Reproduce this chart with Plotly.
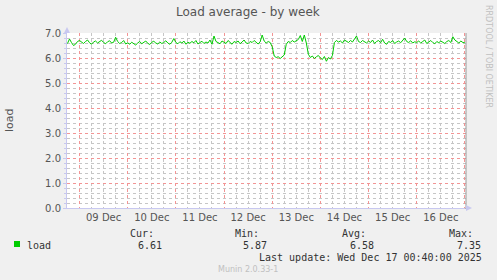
import plotly.graph_objects as go
import pandas as pd

# ---- data (hourly load average) ----
start_time = "2025-12-08 18:00"
load_values = [
    # Dec 8 18:00-23:00
    6.58, 6.76, 6.62, 6.50, 6.55, 6.66,
    # Dec 9
    6.70, 6.63, 6.58, 6.66, 6.72, 6.61, 6.55, 6.64, 6.68, 6.60, 6.66, 6.71,
    6.62, 6.57, 6.65, 6.69, 6.60, 6.63, 6.83, 6.66, 6.58, 6.62, 6.70, 6.56,
    # Dec 10
    6.61, 6.55, 6.63, 6.58, 6.52, 6.60, 6.66, 6.57, 6.62, 6.68, 6.59, 6.54,
    6.63, 6.67, 6.60, 6.56, 6.64, 6.58, 6.62, 6.69, 6.60, 6.55, 6.63, 6.78,
    # Dec 11
    6.62, 6.57, 6.65, 6.60, 6.68, 6.55, 6.63, 6.59, 6.66, 6.61, 6.70, 6.56,
    6.62, 6.67, 6.58, 6.64, 6.60, 6.72, 6.55, 6.88, 6.66, 6.61, 6.57, 6.68,
    # Dec 12
    6.63, 6.58, 6.70, 6.61, 6.55, 6.66, 6.62, 6.68, 6.57, 6.64, 6.72, 6.60,
    6.58, 6.66, 6.62, 6.70, 6.63, 6.56, 6.65, 6.92, 6.68, 6.60, 6.66, 6.62,
    # Dec 13
    6.45, 6.08, 6.02, 6.05, 5.98, 6.06, 6.12, 6.55, 6.66, 6.62, 6.70, 6.64,
    6.68, 6.74, 6.90, 6.66, 6.92, 6.60, 6.15, 6.02, 6.08, 5.98, 6.05, 6.10,
    # Dec 14
    6.00, 5.94, 6.06, 5.87, 6.02, 5.96, 6.10, 6.62, 6.70, 6.64, 6.68, 6.60,
    6.72, 6.66, 6.62, 6.70, 6.64, 6.76, 6.88, 6.66, 6.62, 6.70, 6.65, 6.60,
    # Dec 15
    6.68, 6.62, 6.72, 6.58, 6.66, 6.70, 6.61, 6.75, 6.60, 6.55, 6.66, 6.62,
    6.70, 6.58, 6.64, 6.68, 6.61, 6.72, 6.80, 6.66, 6.62, 6.69, 6.60, 6.65,
    # Dec 16
    6.62, 6.68, 6.60, 6.66, 6.72, 6.58, 6.64, 6.70, 6.62, 6.57, 6.66, 6.61,
    6.68, 6.63, 6.58, 6.66, 6.70, 6.62, 6.85, 6.72, 6.64, 6.60, 6.68, 6.62,
    # Dec 17 00:00
    6.61,
]
x_range = ["2025-12-08 17:46", "2025-12-17 00:33"]
y_range = [0, 7]

series_name = "load"
stat_labels = ["Cur:", "Min:", "Avg:", "Max:"]
stat_values = ["6.61", "5.87", "6.58", "7.35"]
title_text = "Load average - by week"
y_title = "load"
last_update = "Last update: Wed Dec 17 00:40:00 2025"
side_text = "RRDTOOL / TOBI OETIKER"
footer_text = "Munin 2.0.33-1"

times = pd.date_range(start_time, periods=len(load_values), freq="h")

# grid positions (minor grid skips the major positions)
minor_x = [t for t in pd.date_range("2025-12-08 18:00", "2025-12-17 00:00", freq="6h")
           if t.hour != 0]
minor_y = [round(i * 0.2, 1) for i in range(1, 36) if i % 5 != 0]

# ---- layout geometry (pixels) ----
W, H = 497, 280
L, R, T, B = 67, 31, 33, 72
PW, PH = W - L - R, H - T - B


def px(x):
    return (x - L) / PW


def py(y):
    return (H - B - y) / PH


GREEN = "#00CC00"
MAJOR = "#F39494"
MINOR = "#C6C6C6"
AXIS = "#C8C8F0"
TXT = "#555555"

fig = go.Figure()
fig.add_trace(go.Scatter(x=times, y=load_values, mode="lines",
                         line=dict(color=GREEN, width=1), hoverinfo="skip",
                         showlegend=False))

fig.update_layout(
    width=W, height=H,
    margin=dict(l=L, r=R, t=T, b=B, autoexpand=False),
    paper_bgcolor="#F0F0F0", plot_bgcolor="#FFFFFF",
    showlegend=False,
    font=dict(family="DejaVu Sans", size=10, color=TXT),
)

fig.update_xaxes(
    type="date", range=x_range,
    tickmode="linear", tick0="2025-12-09", dtick=86400000,
    ticklabelmode="period", tickformat="%d %b",
    ticks="", showgrid=True, gridcolor=MAJOR, griddash="dot", gridwidth=1,
    minor=dict(tickmode="array", tickvals=minor_x,
               showgrid=True, gridcolor=MINOR, griddash="dot", ticks=""),
    showline=True, linecolor=AXIS, linewidth=1, zeroline=False,
    tickfont=dict(family="DejaVu Sans", size=10, color=TXT),
)
fig.update_yaxes(
    range=y_range, tickmode="linear", tick0=0, dtick=1, tickformat=".1f",
    ticks="outside", ticklen=3, tickcolor=AXIS,
    showgrid=True, gridcolor=MAJOR, griddash="dot", gridwidth=1,
    minor=dict(tickmode="array", tickvals=minor_y, showgrid=True,
               gridcolor=MINOR, griddash="dot", ticks="outside",
               ticklen=2, tickcolor=AXIS),
    showline=True, linecolor=AXIS, linewidth=1, zeroline=False,
    tickfont=dict(family="DejaVu Sans", size=10, color=TXT),
)

shapes = [
    # right edge marker
    dict(type="line", xref="paper", yref="paper", x0=1, x1=1,
         y0=py(209), y1=1, line=dict(color="#999999", width=1)),
    # axis arrows
    dict(type="path", xref="paper", yref="paper",
         path=f"M {px(64)} {py(33)} L {px(70)} {py(33)} L {px(67)} {py(27)} Z",
         fillcolor=AXIS, line=dict(width=0)),
    dict(type="path", xref="paper", yref="paper",
         path=f"M {px(466)} {py(205)} L {px(466)} {py(211)} L {px(472)} {py(208)} Z",
         fillcolor=AXIS, line=dict(width=0)),
    # legend swatch
    dict(type="rect", xref="paper", yref="paper",
         x0=px(14), x1=px(20), y0=py(247), y1=py(241),
         fillcolor=GREEN, line=dict(width=0)),
]
fig.update_layout(shapes=shapes)

MONO = dict(family="DejaVu Sans Mono", size=10, color="#333333")
ann = [
    dict(x=px(248), y=py(12), text=title_text,
         font=dict(family="DejaVu Sans", size=12, color=TXT),
         xanchor="center", yanchor="middle"),
    dict(x=px(9), y=py(120), text=y_title, textangle=-90,
         font=dict(family="DejaVu Sans", size=11, color=TXT),
         xanchor="center", yanchor="middle"),
    dict(x=px(489), y=py(56), text=side_text, textangle=90,
         font=dict(family="DejaVu Sans", size=8, color="#C0C0C0"),
         xanchor="center", yanchor="middle"),
    dict(x=px(25), y=py(245), text=series_name, font=MONO,
         xanchor="left", yanchor="middle"),
    dict(x=px(484), y=py(257), text=last_update, font=MONO,
         xanchor="right", yanchor="middle"),
    dict(x=px(248), y=py(269), text=footer_text,
         font=dict(family="DejaVu Sans", size=8, color="#C0C0C0"),
         xanchor="center", yanchor="middle"),
]
stat_x = [128, 233, 340, 447]
for lab, val, sx in zip(stat_labels, stat_values, stat_x):
    ann.append(dict(x=px(sx), y=py(233), text=lab, font=MONO,
                    xanchor="left", yanchor="middle"))
    ann.append(dict(x=px(sx + 36), y=py(245), text=val, font=MONO,
                    xanchor="right", yanchor="middle"))
for a in ann:
    a.update(xref="paper", yref="paper", showarrow=False)
fig.update_layout(annotations=ann)

fig.write_html("out.html")
